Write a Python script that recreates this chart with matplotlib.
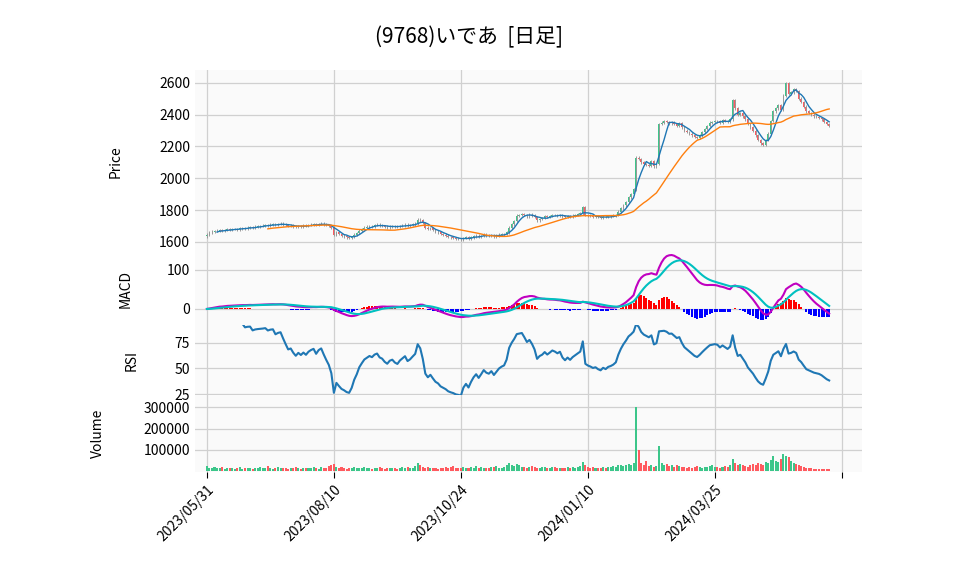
import matplotlib
matplotlib.use("Agg")
import matplotlib.pyplot as plt
import numpy as np
import pandas as pd

plt.rcParams["font.family"] = "Noto Sans CJK JP"

closes = [
1645,1660,1665,1668,1670,1672,1668,1675,1678,1676,
1680,1682,1678,1685,1688,1684,1690,1692,1688,1695,
1698,1700,1702,1705,1703,1708,1710,1706,1712,1715,
1710,1705,1700,1702,1698,1695,1700,1698,1702,1700,
1705,1708,1710,1706,1712,1715,1710,1705,1700,1690,
1645,1660,1650,1640,1635,1628,1625,1632,1645,1655,
1670,1680,1690,1695,1700,1698,1705,1708,1702,1700,
1695,1692,1698,1700,1696,1694,1700,1704,1708,1702,
1705,1710,1715,1740,1735,1720,1690,1680,1685,1675,
1665,1660,1650,1645,1640,1632,1628,1625,1620,1618,
1615,1625,1630,1620,1628,1635,1640,1632,1638,1645,
1640,1638,1642,1635,1640,1645,1648,1650,1660,1690,
1710,1730,1765,1770,1775,1768,1760,1772,1765,1755,
1735,1745,1750,1760,1755,1762,1770,1768,1765,1770,
1760,1755,1762,1758,1765,1770,1775,1780,1820,1770,
1765,1762,1758,1760,1755,1752,1758,1755,1760,1762,
1765,1770,1790,1810,1830,1850,1880,1900,1930,2130,
2120,2100,2090,2085,2080,2110,2075,2090,2340,2350,
2360,2355,2345,2350,2340,2330,2345,2320,2300,2290,
2280,2270,2260,2255,2270,2290,2310,2330,2350,2355,
2360,2358,2350,2365,2360,2355,2370,2490,2440,2400,
2410,2390,2370,2340,2320,2300,2270,2240,2220,2210,
2240,2280,2360,2420,2440,2460,2430,2520,2600,2530,
2540,2560,2550,2500,2480,2450,2420,2410,2400,2390,
2385,2380,2370,2355,2340,2330]

volumes_k = [
25,18,15,20,14,16,22,12,15,18,
14,12,16,20,13,15,18,14,12,16,
15,22,18,14,25,16,12,15,20,18,
14,16,12,15,18,20,14,12,16,15,
18,14,22,16,12,20,15,18,25,30,
35,20,18,22,15,12,16,18,20,14,
15,18,22,16,14,12,15,18,20,14,
12,16,15,18,14,12,16,20,18,22,
15,18,25,40,30,20,18,22,16,15,
14,12,16,18,20,15,22,25,18,16,
14,20,18,15,22,16,25,18,20,15,
18,14,20,22,25,18,16,20,28,40,
30,25,35,28,22,20,18,22,25,20,
16,18,20,22,18,16,20,22,18,16,
15,18,20,16,22,18,20,25,45,30,
22,18,20,16,18,15,20,18,22,20,
25,22,28,30,25,28,35,30,40,300,
100,40,30,50,25,30,20,25,120,40,
30,35,25,30,22,28,25,20,22,18,
20,18,22,25,20,18,22,20,25,30,
22,20,18,22,25,20,28,60,40,30,
35,28,25,22,30,35,28,40,35,30,
45,40,55,70,50,45,60,80,70,65,
50,40,35,30,25,20,15,18,14,12,
12,10,12,10,12,10]

tick_pos = [0, 50, 100, 150, 200, 250]
tick_labels = ["2023/05/31", "2023/08/10", "2023/10/24", "2024/01/10", "2024/03/25", ""]

c = np.array(closes, float)
o = np.concatenate([[c[0] - 10], c[:-1]])
v = np.array(volumes_k, float) * 1000
x = np.arange(len(c))
s = pd.Series(c)
ma5 = s.rolling(5).mean()
ma25 = s.rolling(25).mean()
ema12 = s.ewm(span=12, adjust=False).mean()
ema26 = s.ewm(span=26, adjust=False).mean()
macd = ema12 - ema26
sig = macd.ewm(span=9, adjust=False).mean()
hist = macd - sig
d = s.diff()
up = d.clip(lower=0).ewm(alpha=1/14, adjust=False).mean()
dn = (-d.clip(upper=0)).ewm(alpha=1/14, adjust=False).mean()
rsi = 100 - 100 / (1 + up / dn)
rsi[:14] = np.nan

UP = "#3cc68a"; DN = "#ff5a5f"
fig = plt.figure(figsize=(9.58, 5.75), dpi=100)
L, W = 0.2035, 0.6965
ax1 = fig.add_axes([L, 0.56, W, 0.318])
ax2 = fig.add_axes([L, 0.4348, W, 0.1252], sharex=ax1)
ax3 = fig.add_axes([L, 0.313, W, 0.1218], sharex=ax1)
ax4 = fig.add_axes([L, 0.179, W, 0.134], sharex=ax1)
for a in (ax1, ax2, ax3, ax4):
    a.set_facecolor("#fafafa")
    a.grid(True, color="#d0d0d0", lw=0.9)
    a.set_axisbelow(True)
    for sp in a.spines.values():
        sp.set_visible(False)
    a.tick_params(length=0, labelsize=10)

cols = [UP if cc >= oo else DN for oo, cc in zip(o, c)]
hi = np.maximum(o, c) + 8
lo = np.minimum(o, c) - 8
ax1.vlines(x, lo, hi, color="#999999", lw=0.7)
ax1.bar(x, np.maximum(np.abs(c - o), 2), bottom=np.minimum(o, c), width=0.7, color=cols)
ax1.plot(x, ma5, color="#1f77b4", lw=1.0)
ax1.plot(x, ma25, color="#ff7f0e", lw=1.0)
ax1.set_ylim(1530, 2680)
ax1.set_yticks([1600, 1800, 2000, 2200, 2400, 2600])
ax1.set_ylabel("Price")
ax1.yaxis.set_label_coords(-0.108, 0.5)

ax2.bar(x, hist, width=0.8, color=["red" if h >= 0 else "blue" for h in hist])
ax2.plot(x, macd, color="#c000c0", lw=1.5)
ax2.plot(x, sig, color="#00c0c0", lw=1.5)
ax2.set_ylim(-41, 143)
ax2.set_yticks([0, 100])
ax2.set_ylabel("MACD")
ax2.yaxis.set_label_coords(-0.094, 0.5)

ax3.plot(x, rsi, color="#1f77b4", lw=1.5)
ax3.set_ylim(24, 92.6)
ax3.set_yticks([25, 50, 75])
ax3.set_ylabel("RSI")
ax3.yaxis.set_label_coords(-0.084, 0.5)

ax4.bar(x, v, width=0.8, color=cols)
ax4.set_ylim(-3000, 356000)
ax4.set_yticks([100000, 200000, 300000])
ax4.set_yticklabels(["100000", "200000", "300000"])
ax4.set_ylabel("Volume")
ax4.yaxis.set_label_coords(-0.135, 0.5)

ax1.set_xlim(-4.7, 258)
ax4.set_xticks(tick_pos)
ax4.set_xticklabels(tick_labels, rotation=45, ha="right", rotation_mode="anchor")
ax4.tick_params(axis="x", length=4)
for a in (ax1, ax2, ax3):
    plt.setp(a.get_xticklabels(), visible=False)

fig.suptitle("(9768)いであ  [日足]", fontsize=15, x=0.49, y=0.955)
fig.savefig("out.png", dpi=100)
